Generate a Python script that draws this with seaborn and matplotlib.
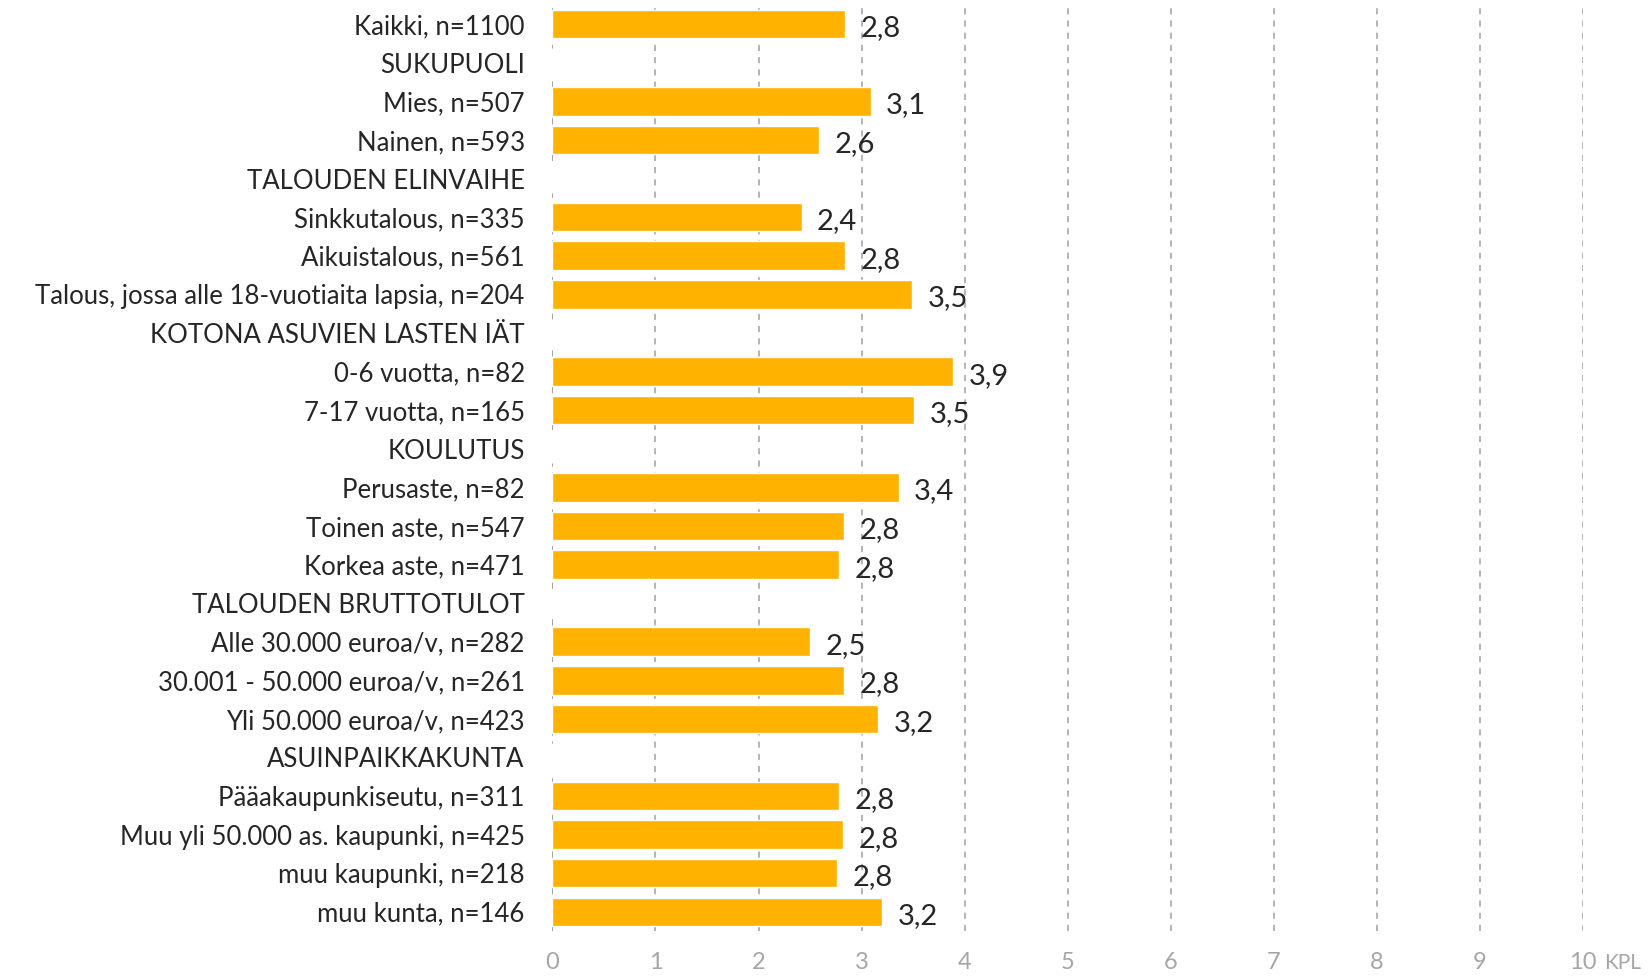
import pandas as pd
import numpy as np
import matplotlib.pyplot as plt
import seaborn as sns

# Data (None = section header row, no bar)
labels = [
    'Kaikki, n=1100',
    'SUKUPUOLI',
    'Mies, n=507',
    'Nainen, n=593',
    'TALOUDEN ELINVAIHE',
    'Sinkkutalous, n=335',
    'Aikuistalous, n=561',
    'Talous, jossa alle 18-vuotiaita lapsia, n=204',
    'KOTONA ASUVIEN LASTEN IÄT',
    '0-6 vuotta, n=82',
    '7-17 vuotta, n=165',
    'KOULUTUS',
    'Perusaste, n=82',
    'Toinen aste, n=547',
    'Korkea aste, n=471',
    'TALOUDEN BRUTTOTULOT',
    'Alle 30.000 euroa/v, n=282',
    '30.001 - 50.000 euroa/v, n=261',
    'Yli 50.000 euroa/v, n=423',
    'ASUINPAIKKAKUNTA',
    'Pääakaupunkiseutu, n=311',
    'Muu yli 50.000 as. kaupunki, n=425',
    'muu kaupunki, n=218',
    'muu kunta, n=146',
]
values = [2.84, None, 3.09, 2.59, None, 2.42, 2.84, 3.49, None, 3.89, 3.51,
          None, 3.36, 2.83, 2.78, None, 2.50, 2.83, 3.16, None, 2.78, 2.82,
          2.76, 3.20]
display = ['2,8', '', '3,1', '2,6', '', '2,4', '2,8', '3,5', '', '3,9', '3,5',
           '', '3,4', '2,8', '2,8', '', '2,5', '2,8', '3,2', '', '2,8', '2,8',
           '2,8', '3,2']

df = pd.DataFrame({'label': labels, 'value': values, 'text': display})
df['value'] = df['value'].astype(float)

sns.set_style('white')
plt.rcParams['font.family'] = ['Lato', 'DejaVu Sans']

fig = plt.figure(figsize=(16.49, 9.77), dpi=100)
ax = fig.add_axes([0.335, 0.047, 0.625, 0.948])

sns.barplot(data=df.fillna({'value': 0}), x='value', y='label', order=labels,
            color='#FFB300', saturation=1, width=0.74, ax=ax, orient='h')

for i, (v, t) in enumerate(zip(df['value'], df['text'])):
    if t:
        ax.annotate(t, xy=(v, i), xytext=(11, -3), textcoords='offset points',
                    ha='left', va='center', fontsize=21, color='#262626')

ax.set_xlim(0, 10)
ax.set_ylim(len(labels) - 0.5, -0.5)
ax.set_xticks(range(0, 11))
ax.xaxis.grid(True, linestyle=(0, (4, 4)), color='#A0A0A0', linewidth=1.1)
ax.set_axisbelow(True)
for s in ax.spines.values():
    s.set_visible(False)
ax.axvline(0, color='#A0A0A0', linestyle=(0, (4, 4)), linewidth=1.1, zorder=0)

ax.tick_params(axis='x', colors='#A6A6A6', labelsize=17, length=0, pad=15)
ax.tick_params(axis='y', labelsize=18.5, length=0, pad=20, labelcolor='#262626')
ax.set_xlabel('')
ax.set_ylabel('')
ax.annotate('KPL', xy=(10, 0), xycoords=('data', 'axes fraction'),
            xytext=(15, -15.5), textcoords='offset points', ha='left', va='top',
            fontsize=15, color='#A6A6A6')

plt.savefig('out.png', dpi=100)
